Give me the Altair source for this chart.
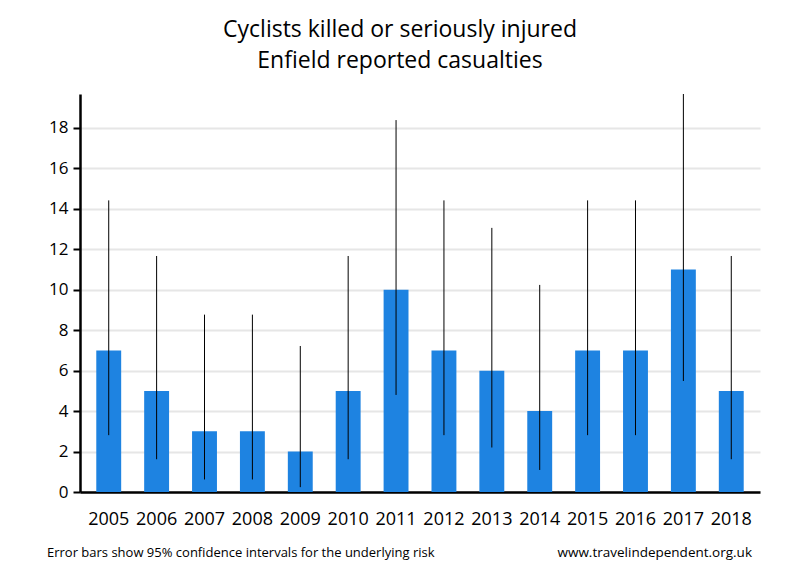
import altair as alt
import pandas as pd

years = ["2005", "2006", "2007", "2008", "2009", "2010", "2011",
         "2012", "2013", "2014", "2015", "2016", "2017", "2018"]
casualties = [7, 5, 3, 3, 2, 5, 10, 7, 6, 4, 7, 7, 11, 5]
ci_low = [2.81, 1.62, 0.62, 0.62, 0.24, 1.62, 4.80, 2.81, 2.20, 1.09, 2.81, 2.81, 5.49, 1.62]
ci_high = [14.42, 11.67, 8.77, 8.77, 7.22, 11.67, 18.39, 14.42, 13.06, 10.24, 14.42, 14.42, 19.68, 11.67]
y_ticks = [0, 2, 4, 6, 8, 10, 12, 14, 16, 18]

title_line1 = "Cyclists killed or seriously injured"
title_line2 = "Enfield reported casualties"
footer_left = "Error bars show 95% confidence intervals for the underlying risk"
footer_right = "www.travelindependent.org.uk"

df = pd.DataFrame({"year": years, "n": casualties, "lo": ci_low, "hi": ci_high})

FONT = "Open Sans"
W, H = 680, 398

x = alt.X("year:N", sort=years, title=None,
          scale=alt.Scale(paddingInner=0.48, paddingOuter=0.34),
          axis=alt.Axis(labelAngle=0, ticks=False, domainColor="black", domainWidth=2.5,
                        labelFontSize=18, labelFont=FONT, labelColor="#000",
                        labelPadding=18, grid=False))
y = alt.Y("n:Q", title=None,
          scale=alt.Scale(domain=[0, 19.68], nice=False, zero=True),
          axis=alt.Axis(values=y_ticks, domainColor="black", domainWidth=2.5,
                        tickColor="black", tickWidth=2, tickSize=7,
                        labelFontSize=17, labelFont=FONT, labelColor="#000",
                        labelPadding=5, grid=True, gridColor="#e6e6e6", gridWidth=2))

bars = alt.Chart(df).mark_bar(color="#1e83e1").encode(x=x, y=y)
err = alt.Chart(df).mark_rule(color="black", strokeWidth=1).encode(
    x=alt.X("year:N", sort=years), y=alt.Y("lo:Q"), y2="hi:Q")


def label(text, xpos, ypos, size, align):
    return alt.Chart(pd.DataFrame({"t": [text]})).mark_text(
        fontSize=size, font=FONT, color="black", align=align, baseline="middle").encode(
        text="t:N", x=alt.value(xpos), y=alt.value(ypos))


t1 = label(title_line1, 320, -64, 23, "center")
t2 = label(title_line2, 320, -33, 23, "center")
fl = label(footer_left, -33, 459, 13, "left")
fr = label(footer_right, 672, 459, 13.5, "right")

chart = alt.layer(bars, err, t1, t2, fl, fr).properties(
    width=W, height=H,
    autosize=alt.AutoSizeParams(type="none"),
    padding={"left": 72, "top": 86, "right": 32, "bottom": 70}
).configure(background="white").configure_view(stroke=None)

chart.save("out.html", embed_options={"renderer": "svg", "actions": False})
